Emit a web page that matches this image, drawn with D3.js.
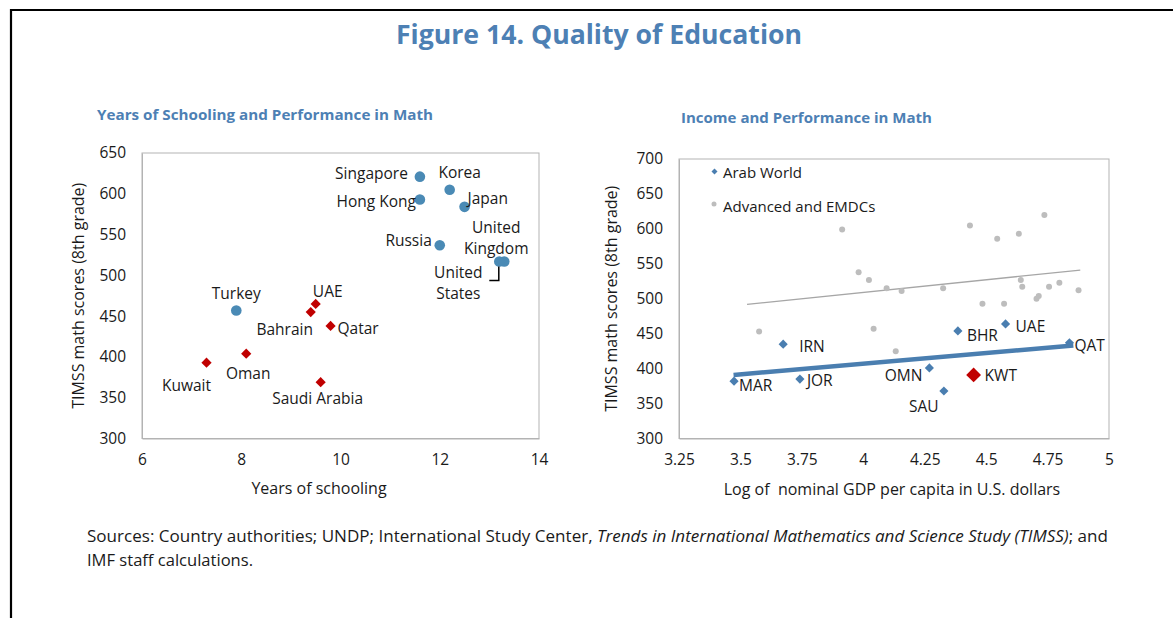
<!DOCTYPE html>
<html><head><meta charset="utf-8">
<script src="https://cdn.jsdelivr.net/npm/d3@7"></script>
<style>
html,body{margin:0;padding:0;background:#fff;}
svg{display:block;}
text{font-family:"Open Sans",sans-serif;fill:#1a1a1a;white-space:pre;}
</style></head>
<body>
<script>
// ---------- Data ----------
// Left panel: Years of schooling vs TIMSS math score
const otherCountries = ["Singapore","Korea","Hong Kong","Japan","Russia","United Kingdom","United States","Turkey"];
const otherYears     = [11.6, 12.2, 11.6, 12.5, 12.0, 13.3, 13.2, 7.9];
const otherScores    = [621, 605, 593, 584, 537, 517, 517, 457];

const gccCountries = ["UAE","Bahrain","Qatar","Oman","Kuwait","Saudi Arabia"];
const gccYears     = [9.5, 9.4, 9.8, 8.1, 7.3, 9.6];
const gccScores    = [465, 455, 438, 404, 393, 369];

const leftXTicks = [6, 8, 10, 12, 14];
const leftYTicks = [300, 350, 400, 450, 500, 550, 600, 650];

// Right panel: Log GDP per capita vs TIMSS math score
const arabCodes  = ["MAR","IRN","JOR","OMN","SAU","BHR","UAE","QAT","KWT"];
const arabLogGdp = [3.474, 3.674, 3.742, 4.269, 4.328, 4.385, 4.579, 4.839, 4.449];
const arabMath   = [382, 435, 385, 401, 368, 454, 464, 437, 391];

const advLogGdp = [3.914, 4.434, 4.545, 4.633, 4.737, 3.981, 4.023, 4.095, 4.156, 4.325, 4.641,
                   4.647, 4.756, 4.798, 4.876, 4.485, 4.573, 4.705, 4.714, 3.576, 4.042, 4.132];
const advMath   = [599, 605, 586, 593, 620, 538, 527, 515, 511, 515, 527,
                   517, 517, 523, 512, 493, 493, 500, 504, 453, 457, 425];

// Trend lines (end points)
const arabTrendX = [3.472, 4.855];
const arabTrendY = [391, 433];
const advTrendX  = [3.527, 4.883];
const advTrendY  = [492, 541];

const rightXTicks = [3.25, 3.5, 3.75, 4, 4.25, 4.5, 4.75, 5];
const rightYTicks = [300, 350, 400, 450, 500, 550, 600, 650, 700];

// ---------- Layout / style config ----------
const BLUE = "#4d80b4", DOT = "#4a8ab5", RED = "#c00000", ARAB = "#4a7eb0", GREY = "#bdbdbd";
const FS = 15.5;
// label offsets: [dx, dy, anchor]
const otherLabelPos = {
  "Singapore":[-12,-4,"end"], "Korea":[10,-18,"middle"], "Hong Kong":[-4,2,"end"],
  "Japan":[3,-9,"start"], "Russia":[-8,-5,"end"], "Turkey":[0,-17,"middle"]
};
const gccLabelPos = {
  "UAE":[12,-13,"middle"], "Bahrain":[-26,17,"middle"], "Qatar":[7,2,"start"],
  "Oman":[2,19,"middle"], "Kuwait":[-20,22,"middle"], "Saudi Arabia":[-3,16,"middle"]
};
const arabLabelPos = {
  "MAR":[5,4,"start"], "IRN":[16,2,"start"], "JOR":[7,1,"start"], "OMN":[-7,7,"end"],
  "SAU":[-20,15,"middle"], "BHR":[9,4,"start"], "UAE":[10,2,"start"], "QAT":[5,2,"start"], "KWT":[11,0,"start"]
};

const W = 1173, H = 618;
const svg = d3.select("body").append("svg").attr("width", W).attr("height", H);

// frame
svg.append("path").attr("d", `M11,${H} L11,10 L${W},10`).attr("fill","none")
  .attr("stroke","#000").attr("stroke-width",2.2);

// titles
svg.append("text").attr("x",599).attr("y",34).attr("text-anchor","middle").attr("dominant-baseline","central")
  .attr("font-size",26).attr("font-weight","bold").style("fill",BLUE)
  .attr("textLength",406).attr("lengthAdjust","spacingAndGlyphs")
  .text("Figure 14. Quality of Education");
svg.append("text").attr("x",97).attr("y",114).attr("dominant-baseline","central")
  .attr("font-size",14.5).attr("font-weight","bold").style("fill",BLUE)
  .attr("textLength",336).attr("lengthAdjust","spacingAndGlyphs")
  .text("Years of Schooling and Performance in Math");
svg.append("text").attr("x",681).attr("y",117).attr("dominant-baseline","central")
  .attr("font-size",14.5).attr("font-weight","bold").style("fill",BLUE)
  .attr("textLength",251).attr("lengthAdjust","spacingAndGlyphs")
  .text("Income and Performance in Math");

// sources
const s1 = svg.append("text").attr("x",87).attr("y",536).attr("dominant-baseline","central")
  .attr("font-size",15.5).attr("textLength",1021).attr("lengthAdjust","spacingAndGlyphs");
s1.append("tspan").text("Sources: Country authorities; UNDP; International Study Center, ");
s1.append("tspan").attr("font-style","italic").text("Trends in International Mathematics and Science Study (TIMSS)");
s1.append("tspan").text("; and");
svg.append("text").attr("x",87).attr("y",560).attr("dominant-baseline","central")
  .attr("font-size",15.5).attr("textLength",166).attr("lengthAdjust","spacingAndGlyphs")
  .text("IMF staff calculations.");

function drawFrame(g, x, y, xTicks, yTicks, xTitle, xTitleX, yTitleX, xTitleY, fmtX) {
  const [x0,x1] = x.range(), [y0,y1] = y.range();
  g.append("rect").attr("x",x0).attr("y",y1).attr("width",x1-x0).attr("height",y0-y1)
    .attr("fill","none").attr("stroke","#b3b3b3").attr("stroke-width",1);
  const ax = g.append("g").attr("transform",`translate(0,${y0})`)
    .call(d3.axisBottom(x).tickValues(xTicks).tickSize(0).tickPadding(15).tickFormat(fmtX));
  const ay = g.append("g").attr("transform",`translate(${x0},0)`)
    .call(d3.axisLeft(y).tickValues(yTicks).tickSize(0).tickPadding(16).tickFormat(d3.format("d")));
  [ax, ay].forEach(a => {
    a.select(".domain").attr("stroke","#b3b3b3");
    a.selectAll("text").attr("font-size",FS).style("font-family","'Open Sans',sans-serif").style("fill","#1a1a1a");
  });
  g.append("text").attr("x",xTitleX).attr("y",xTitleY).attr("text-anchor","middle")
    .attr("dominant-baseline","central").attr("font-size",16).text(xTitle);
  g.append("text").attr("transform",`translate(${yTitleX},${(y0+y1)/2}) rotate(-90)`)
    .attr("text-anchor","middle").attr("dominant-baseline","central").attr("font-size",16)
    .text("TIMSS math scores (8th grade)");
}

// ---------- Left panel ----------
const lx = d3.scaleLinear().domain([6,14]).range([142,539]);
const ly = d3.scaleLinear().domain([300,650]).range([438.5,153]);
const gl = svg.append("g");
drawFrame(gl, lx, ly, leftXTicks, leftYTicks, "Years of schooling", 319, 78, 488, d3.format("d"));

otherCountries.forEach((c,i) => {
  gl.append("circle").attr("cx",lx(otherYears[i])).attr("cy",ly(otherScores[i])).attr("r",5.3).attr("fill",DOT);
});
gccCountries.forEach((c,i) => {
  gl.append("path").attr("d", d3.symbol().type(d3.symbolSquare).size(52)())
    .attr("transform",`translate(${lx(gccYears[i])},${ly(gccScores[i])}) rotate(45)`).attr("fill",RED);
});
function lab(g, x, y, p, t) {
  g.append("text").attr("x",x+p[0]).attr("y",y+p[1]).attr("text-anchor",p[2])
    .attr("dominant-baseline","central").attr("font-size",FS).text(t);
}
otherCountries.forEach((c,i) => {
  const px = lx(otherYears[i]), py = ly(otherScores[i]);
  if (otherLabelPos[c]) lab(gl, px, py, otherLabelPos[c], c);
});
gccCountries.forEach((c,i) => {
  lab(gl, lx(gccYears[i]), ly(gccScores[i]), gccLabelPos[c], c);
});
// UK / US labels (two lines)
{
  const i = otherCountries.indexOf("United Kingdom");
  const px = lx(otherYears[i]), py = ly(otherScores[i]);
  lab(gl, px, py, [-8,-34,"middle"], "United");
  lab(gl, px, py, [-8,-13,"middle"], "Kingdom");
  const j = otherCountries.indexOf("United States");
  const qx = lx(otherYears[j]), qy = ly(otherScores[j]);
  lab(gl, qx, qy, [-41,11,"middle"], "United");
  lab(gl, qx, qy, [-41,32,"middle"], "States");
  gl.append("path").attr("d",`M${qx-0.5},${qy+5} L${qx-0.5},${qy+19} L${qx-10},${qy+19}`)
    .attr("fill","none").attr("stroke","#000").attr("stroke-width",1.5);
}

// ---------- Right panel ----------
const rx = d3.scaleLinear().domain([3.25,5]).range([679,1109]);
const ry = d3.scaleLinear().domain([300,700]).range([438.5,159]);
const gr = svg.append("g");
drawFrame(gr, rx, ry, rightXTicks, rightYTicks, "Log of  nominal GDP per capita in U.S. dollars", 892, 611, 489,
  d => (d % 1 === 0 ? d3.format("d")(d) : String(d)));

// grey trend + points
gr.append("line").attr("x1",rx(advTrendX[0])).attr("y1",ry(advTrendY[0]))
  .attr("x2",rx(advTrendX[1])).attr("y2",ry(advTrendY[1])).attr("stroke","#a6a6a6").attr("stroke-width",1.3);
advLogGdp.forEach((v,i) => {
  gr.append("circle").attr("cx",rx(v)).attr("cy",ry(advMath[i])).attr("r",3).attr("fill",GREY);
});
// arab trend
gr.append("line").attr("x1",rx(arabTrendX[0])).attr("y1",ry(arabTrendY[0]))
  .attr("x2",rx(arabTrendX[1])).attr("y2",ry(arabTrendY[1])).attr("stroke","#4a7eb0").attr("stroke-width",4.5);
arabCodes.forEach((c,i) => {
  const kw = c === "KWT";
  gr.append("path").attr("d", d3.symbol().type(d3.symbolSquare).size(kw ? 110 : 42)())
    .attr("transform",`translate(${rx(arabLogGdp[i])},${ry(arabMath[i])}) rotate(45)`)
    .attr("fill", kw ? RED : ARAB);
  lab(gr, rx(arabLogGdp[i]), ry(arabMath[i]), arabLabelPos[c], c);
});

// legend
gr.append("path").attr("d", d3.symbol().type(d3.symbolSquare).size(18)())
  .attr("transform","translate(714.5,171.5) rotate(45)").attr("fill",ARAB);
gr.append("text").attr("x",723).attr("y",171.5).attr("dominant-baseline","central").attr("font-size",15).text("Arab World");
gr.append("circle").attr("cx",714).attr("cy",204).attr("r",2.5).attr("fill",GREY);
gr.append("text").attr("x",723).attr("y",206).attr("dominant-baseline","central").attr("font-size",15).text("Advanced and EMDCs");
</script>
</body></html>
